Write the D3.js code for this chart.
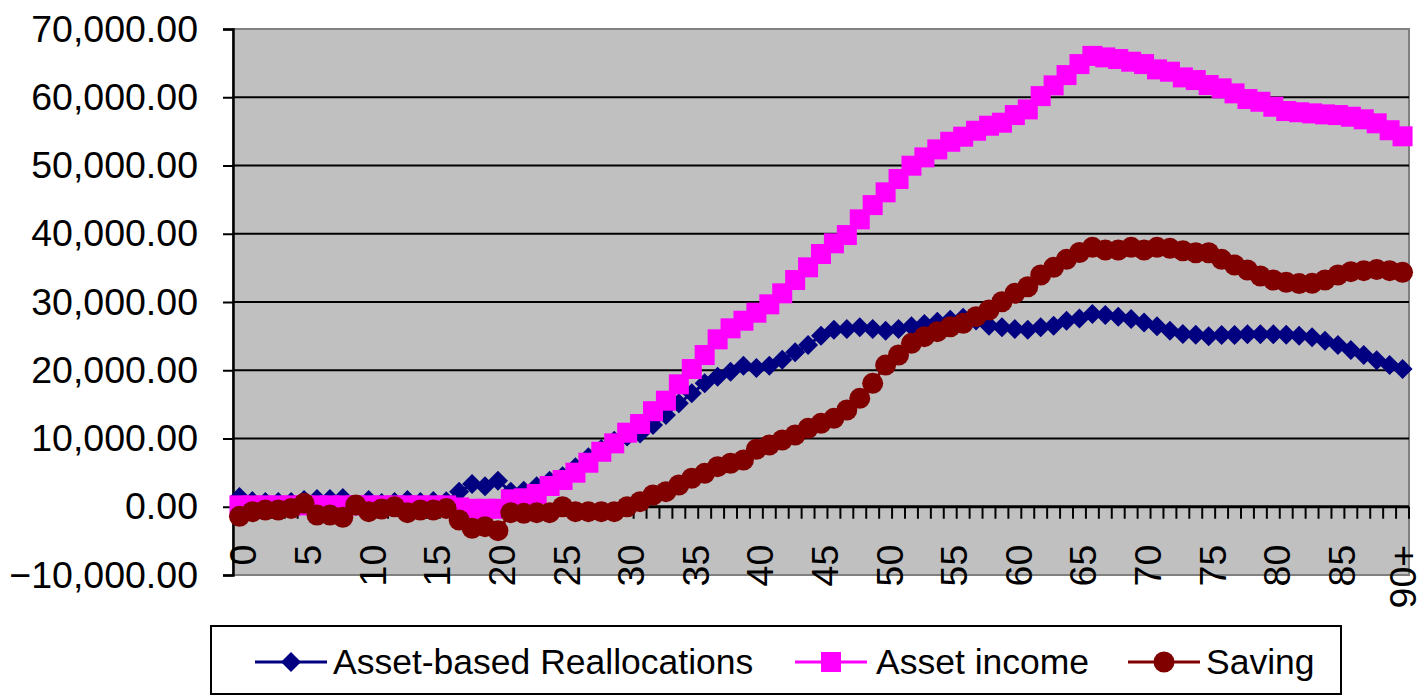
<!DOCTYPE html>
<html>
<head>
<meta charset="utf-8">
<script src="https://cdn.jsdelivr.net/npm/d3@7"></script>
<style>
  html, body { margin: 0; padding: 0; background: #ffffff; }
  svg { display: block; }
  text { font-family: "Liberation Sans", Arial, sans-serif; fill: #000; }
</style>
</head>
<body>
<svg id="chart" width="1425" height="696"></svg>
<script>
// ---- data ----
const ages = d3.range(0, 90).map(String).concat(["90+"]);
const shownAgeLabels = ["0","5","10","15","20","25","30","35","40","45","50","55","60","65","70","75","80","85","90+"];
const yTicks = [-10000, 0, 10000, 20000, 30000, 40000, 50000, 60000, 70000];
const seriesNames = ["Asset-based Reallocations", "Asset income", "Saving"];

const reallocations = [
  1430, 840, 700, 700, 700, 1000, 1130, 1130, 1280, 150,
  1000, 550, 700, 1000, 700, 840, 800, 2200, 3330, 3000,
  3820, 2200, 2350, 3000, 3820, 4460, 5780, 7240, 8460, 9680,
  10300, 10750, 11980, 13440, 15150, 16620, 18080, 19060, 19790, 20670,
  20330, 20670, 21550, 22620, 23700, 25060, 25940, 26040, 26300, 26040,
  25800, 26040, 26430, 26770, 27110, 27400, 27700, 27300, 26530, 26290,
  26040, 25920, 26290, 26530, 27260, 27600, 28240, 28090, 27840, 27500,
  27010, 26430, 25800, 25310, 25210, 24970, 25160, 25160, 25260, 25260,
  25260, 25210, 25060, 24820, 24330, 23700, 22960, 22230, 21450, 20770,
  20180
];
const assetIncome = [
  200, 200, 200, 200, 200, 200, 200, 200, 200, 200,
  200, 200, 200, 200, 200, 200, 200, -100, -300, -300,
  -300, 1090, 1240, 1870, 3040, 3920, 4990, 6450, 8060, 9290,
  10850, 12120, 14000, 15540, 17940, 20180, 22230, 24530, 26140, 27260,
  28430, 29660, 31270, 33220, 35080, 37030, 38600, 39810, 42110, 44200,
  46070, 48020, 49970, 51190, 52360, 53480, 54220, 55090, 55830, 56270,
  57390, 58220, 60170, 61740, 63250, 64860, 66060, 65840, 65600, 65210,
  64860, 64080, 63740, 62910, 62520, 61790, 61300, 60570, 59740, 59340,
  58610, 57980, 57800, 57640, 57490, 57390, 57150, 56770, 56180, 55170,
  54280
];
const saving = [
  -1400, -720, -480, -480, -240, 500, -1210, -1210, -1550, 260,
  -720, -330, 0, -870, -480, -480, -240, -1940, -3160, -2920,
  -3500, -870, -970, -870, -870, 0, -720, -720, -720, -720,
  0, 740, 1720, 2210, 3190, 4170, 4900, 5870, 6370, 6850,
  8420, 9050, 9780, 10510, 11490, 12220, 12950, 14170, 15890, 18080,
  20760, 22230, 23940, 24920, 25650, 26380, 26870, 27850, 28830, 30040,
  31270, 32240, 33950, 35080, 36250, 37250, 38010, 37620, 37620, 38010,
  37620, 38010, 37860, 37510, 37220, 37220, 36250, 35420, 34690, 33810,
  33220, 32900, 32700, 32730, 33220, 33950, 34440, 34590, 34780, 34590,
  34350
];

// ---- layout ----
const svg = d3.select("#chart");
const L = 233, R = 1409, T = 29, B = 575;
const FONT = 37.5;

const x = d3.scaleBand().domain(ages).range([L, R]).padding(0);
const xc = d => x(d) + x.bandwidth() / 2;
const y = d3.scaleLinear().domain([-10000, 70000]).range([B, T]);

// plot area
svg.append("rect")
  .attr("x", L).attr("y", T).attr("width", R - L).attr("height", B - T)
  .attr("fill", "#C0C0C0").attr("stroke", "#808080").attr("stroke-width", 2);

// gridlines
svg.append("g")
  .selectAll("line")
  .data(yTicks.filter(v => v > 0 && v < 70000))
  .join("line")
  .attr("x1", L).attr("x2", R)
  .attr("y1", d => y(d)).attr("y2", d => y(d))
  .attr("stroke", "#000").attr("stroke-width", 2);

// y axis
const yAxis = d3.axisLeft(y).tickValues(yTicks).tickSize(10).tickPadding(25)
  .tickFormat(d3.format(",.2f"));
const gy = svg.append("g").attr("transform", `translate(${L},0)`).call(yAxis);
gy.select(".domain").attr("stroke", "#000").attr("stroke-width", 2.5);
gy.selectAll(".tick line").attr("stroke", "#000").attr("stroke-width", 2);
gy.selectAll(".tick text")
  .attr("font-size", FONT)
  .attr("font-family", '"Liberation Sans", Arial, sans-serif')
  .attr("fill", "#000");

// x axis at zero
const gx = svg.append("g");
gx.append("line")
  .attr("x1", L).attr("x2", R)
  .attr("y1", y(0)).attr("y2", y(0))
  .attr("stroke", "#000").attr("stroke-width", 3);
// tick marks between categories
const boundaries = ages.map(a => x(a)).concat([R]);
gx.selectAll("line.tk")
  .data(boundaries)
  .join("line")
  .attr("class", "tk")
  .attr("x1", d => d).attr("x2", d => d)
  .attr("y1", y(0)).attr("y2", y(0) + 12)
  .attr("stroke", "#000").attr("stroke-width", 2);
// labels
gx.selectAll("text")
  .data(shownAgeLabels)
  .join("text")
  .attr("transform", d => `translate(${xc(d) + (d === "90+" ? 13 : 17)},${y(0) + 38}) rotate(-90)`)
  .attr("text-anchor", "end")
  .attr("font-size", FONT)
  .text(d => d);

// ---- series ----
const line = d3.line().x((d, i) => xc(ages[i])).y(d => y(d));

function diamondPath(cx, cy, r) {
  return `M${cx},${cy - r}L${cx + r},${cy}L${cx},${cy + r}L${cx - r},${cy}Z`;
}

const series = [
  { name: seriesNames[0], values: reallocations, color: "#000080", shape: "diamond" },
  { name: seriesNames[1], values: assetIncome, color: "#FF00FF", shape: "square" },
  { name: seriesNames[2], values: saving, color: "#800000", shape: "circle" }
];

function drawMarker(g, shape, cx, cy, color) {
  if (shape === "diamond") {
    g.append("path").attr("d", diamondPath(cx, cy, 10)).attr("fill", color);
  } else if (shape === "square") {
    g.append("rect").attr("x", cx - 10).attr("y", cy - 10)
      .attr("width", 20).attr("height", 20).attr("fill", color);
  } else {
    g.append("circle").attr("cx", cx).attr("cy", cy).attr("r", 10.5).attr("fill", color);
  }
}

series.forEach(s => {
  const g = svg.append("g");
  g.append("path")
    .attr("d", line(s.values))
    .attr("fill", "none").attr("stroke", s.color).attr("stroke-width", 3);
  s.values.forEach((v, i) => drawMarker(g, s.shape, xc(ages[i]), y(v), s.color));
});

// ---- legend ----
const lg = svg.append("g");
lg.append("rect")
  .attr("x", 211).attr("y", 626).attr("width", 1130).attr("height", 68)
  .attr("fill", "#fff").attr("stroke", "#000").attr("stroke-width", 2);
const legendItems = [
  { s: series[0], x0: 255, tx: 333 },
  { s: series[1], x0: 795, tx: 876 },
  { s: series[2], x0: 1128, tx: 1206 }
];
const ly = 662;
legendItems.forEach(it => {
  lg.append("line")
    .attr("x1", it.x0).attr("x2", it.x0 + 72)
    .attr("y1", ly).attr("y2", ly)
    .attr("stroke", it.s.color).attr("stroke-width", 3);
  drawMarker(lg, it.s.shape, it.x0 + 36, ly, it.s.color);
  lg.append("text")
    .attr("x", it.tx).attr("y", ly).attr("dy", "0.35em")
    .attr("font-size", 35.5)
    .text(it.s.name);
});
</script>
</body>
</html>
